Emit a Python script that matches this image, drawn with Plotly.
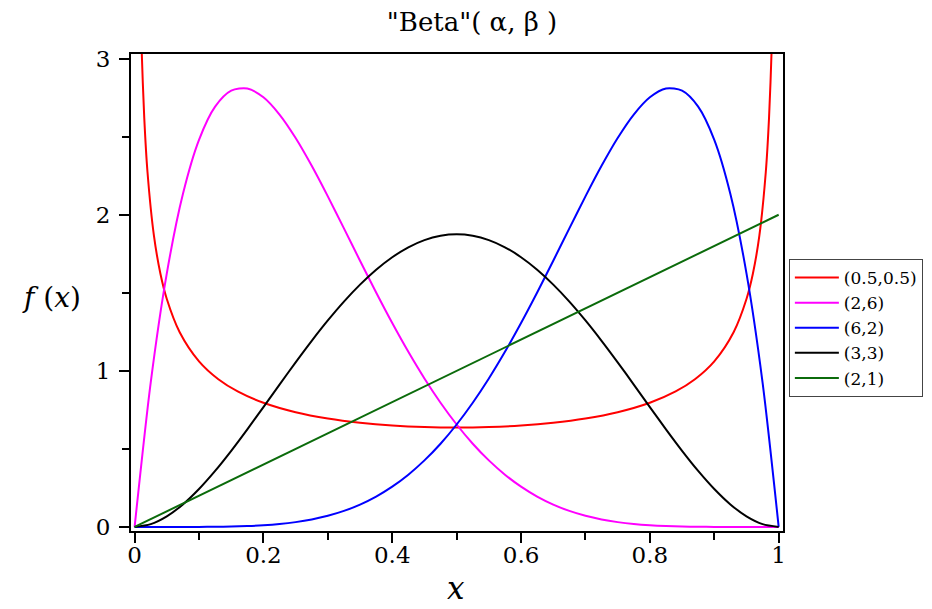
import plotly.graph_objects as go

# Legend labels (alpha, beta)
labels = ["(0.5,0.5)", "(2,6)", "(6,2)", "(3,3)", "(2,1)"]
colors = ["#ff0000", "#ff00ff", "#0000ff", "#000000", "#0b6b0b"]

# Beta(0.5,0.5) (dense near the edges)
x_red = [0.001, 0.002, 0.005, 0.008, 0.011, 0.015, 0.02, 0.03, 0.04, 0.05, 0.07, 0.1, 0.13, 0.16,
         0.2, 0.25, 0.3, 0.35, 0.4, 0.45, 0.5, 0.55, 0.6, 0.65, 0.7, 0.75, 0.8, 0.84, 0.87,
         0.9, 0.93, 0.95, 0.96, 0.97, 0.98, 0.985, 0.989, 0.992, 0.995, 0.998, 0.999]
y_red = [10.07, 7.125, 4.513, 3.573, 3.052, 2.619, 2.274, 1.866, 1.624, 1.4605, 1.2476, 1.061, 0.9465, 0.8683,
         0.7958, 0.7351, 0.6946, 0.6674, 0.6497, 0.6398, 0.6366, 0.6398, 0.6497, 0.6674, 0.6946, 0.7351, 0.7958, 0.8683, 0.9465,
         1.061, 1.2476, 1.4605, 1.624, 1.866, 2.274, 2.619, 3.052, 3.573, 4.513, 7.125, 10.07]

# Common grid for the polynomial densities
x_grid = [0, 0.025, 0.05, 0.075, 0.1, 0.125, 0.15, 0.175, 0.2, 0.225, 0.25, 0.275, 0.3, 0.325, 0.35,
          0.375, 0.4, 0.425, 0.45, 0.475, 0.5, 0.525, 0.55, 0.575, 0.6, 0.625, 0.65, 0.675, 0.7,
          0.725, 0.75, 0.775, 0.8, 0.825, 0.85, 0.875, 0.9, 0.925, 0.95, 0.975, 1.0]

y_26 = [0, 0.9252, 1.6249, 2.1331, 2.4801, 2.6928, 2.7953, 2.809, 2.7525, 2.642, 2.4917, 2.3135, 2.1177,
        1.9127, 1.7056, 1.502, 1.3064, 1.122, 0.9512, 0.7957, 0.6563, 0.5332, 0.4263, 0.3349, 0.2581,
        0.1947, 0.1434, 0.1028, 0.0714, 0.0479, 0.0308, 0.0188, 0.0108, 0.0057, 0.0027, 0.0011, 0.0004,
        0.0001, 0.0, 0.0, 0]

y_62 = [0, 0.0, 0.0, 0.0001, 0.0004, 0.0011, 0.0027, 0.0057, 0.0108, 0.0188, 0.0308, 0.0479, 0.0714,
        0.1028, 0.1434, 0.1947, 0.2581, 0.3349, 0.4263, 0.5332, 0.6563, 0.7957, 0.9512, 1.122, 1.3064,
        1.502, 1.7056, 1.9127, 2.1177, 2.3135, 2.4917, 2.642, 2.7525, 2.809, 2.7953, 2.6928, 2.4801,
        2.1331, 1.6249, 0.9252, 0]

y_33 = [0, 0.0178, 0.0677, 0.1444, 0.243, 0.3589, 0.4877, 0.6253, 0.768, 0.9122, 1.0547, 1.1925, 1.323,
        1.4438, 1.5527, 1.648, 1.728, 1.7916, 1.8377, 1.8656, 1.875, 1.8656, 1.8377, 1.7916, 1.728,
        1.648, 1.5527, 1.4438, 1.323, 1.1925, 1.0547, 0.9122, 0.768, 0.6253, 0.4877, 0.3589, 0.243,
        0.1444, 0.0677, 0.0178, 0]

x_21 = [0, 1]
y_21 = [0, 2]

xs = [x_red, x_grid, x_grid, x_grid, x_21]
ys = [y_red, y_26, y_62, y_33, y_21]

fig = go.Figure()
for lab, col, xv, yv in zip(labels, colors, xs, ys):
    fig.add_trace(go.Scatter(x=xv, y=yv, mode="lines", name=lab,
                             line=dict(color=col, width=2, shape="spline", smoothing=0.8)))

tickfont = dict(family="DejaVu Serif", size=23, color="black")
fig.update_layout(
    width=932, height=609,
    margin=dict(l=131, r=149, t=54, b=78, autoexpand=False),
    paper_bgcolor="white", plot_bgcolor="white",
    title=dict(text='"Beta"( α, β )', x=472 / 932, xref="container", y=1 - 22 / 609, yref="container",
               xanchor="center", yanchor="middle",
               font=dict(family="DejaVu Serif", size=26, color="black")),
    legend=dict(x=1.009, y=(531 - 259) / 477, xanchor="left", yanchor="top",
                bordercolor="#444", borderwidth=1, bgcolor="white",
                font=dict(family="DejaVu Serif", size=17, color="black"),
                tracegroupgap=0, itemwidth=44),
    showlegend=True,
)
fig.update_xaxes(range=[-0.0056, 1.0067], tickvals=[0, 0.2, 0.4, 0.6, 0.8, 1],
                 ticktext=["0", "0.2", "0.4", "0.6", "0.8", "1"],
                 ticks="outside", ticklen=10, tickwidth=2, tickcolor="black",
                 minor=dict(dtick=0.1, tick0=0, ticks="outside", ticklen=7, tickwidth=2, tickcolor="black"),
                 showline=True, linewidth=2, linecolor="black", mirror=True,
                 showgrid=False, zeroline=False, tickfont=tickfont, ticklabelstandoff=-8)
fig.update_yaxes(range=[-0.026, 3.03], tickvals=[0, 1, 2, 3], ticktext=["0", "1", "2", "3"],
                 ticks="outside", ticklen=10, tickwidth=2, tickcolor="black",
                 minor=dict(dtick=0.5, tick0=0, ticks="outside", ticklen=7, tickwidth=2, tickcolor="black"),
                 showline=True, linewidth=2, linecolor="black", mirror=True,
                 showgrid=False, zeroline=False, tickfont=tickfont, ticklabelstandoff=4)

fig.add_annotation(text="<i>f</i> (<i>x</i>)", xref="paper", yref="paper",
                   x=(51 - 131) / 652, y=(531 - 297) / 477, xanchor="center", yanchor="middle",
                   showarrow=False, font=dict(family="DejaVu Serif", size=28, color="black"))
fig.add_annotation(text="<i>x</i>", xref="paper", yref="paper",
                   x=(456 - 131) / 652, y=(531 - 608) / 477, xanchor="center", yanchor="bottom",
                   showarrow=False, font=dict(family="DejaVu Serif", size=31, color="black"))

fig.write_html("out.html")
